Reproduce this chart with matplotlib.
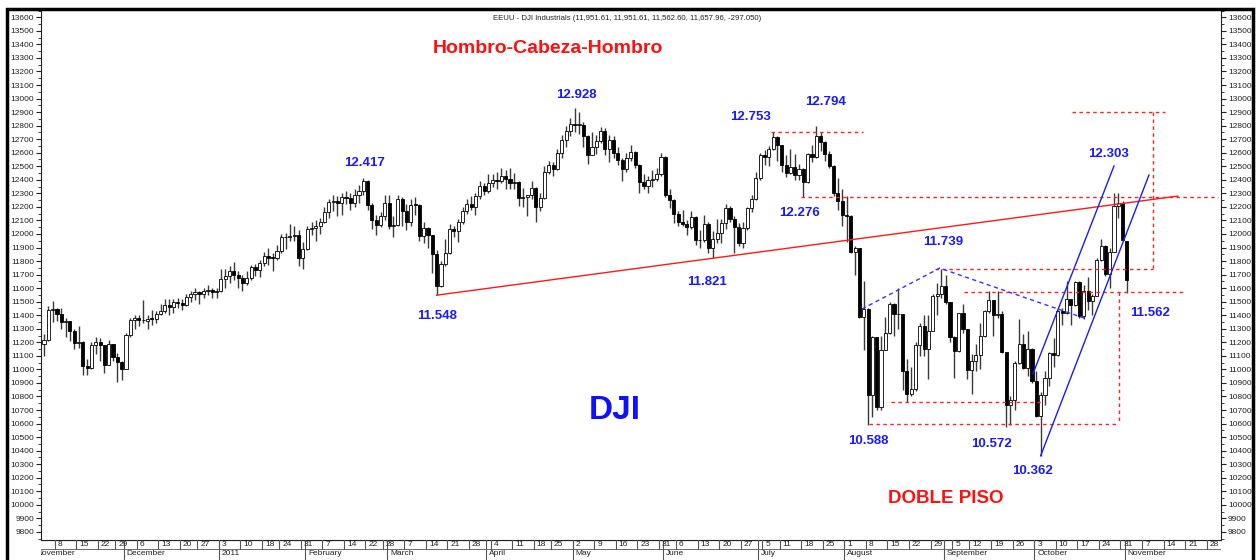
import matplotlib
matplotlib.use("Agg")
import matplotlib.pyplot as plt
from matplotlib.patches import Rectangle
import numpy as np
import pandas as pd

plt.rcParams['font.family'] = ['Liberation Sans', 'DejaVu Sans']

# ---------------- DATA (O, H, L, C) per trading day ----------------
nov10 = [(11188,11260,11100,11215),(11215,11470,11210,11435),(11435,11505,11350,11444),(11444,11450,11360,11407),
         (11407,11455,11300,11347),(11347,11380,11240,11357),(11357,11360,11210,11283),(11283,11300,11150,11193),
         (11193,11320,11160,11202),(11202,11210,10960,11024),(11024,11080,10960,11008),(11008,11200,11000,11181),
         (11181,11240,11110,11204),(11204,11230,11060,11179),(11179,11180,10970,11036),(11036,11220,11030,11187),
         (11187,11190,11060,11092),(11092,11120,10910,11052),(11052,11060,10920,11006)]
dec10 = [(11006,11270,11000,11256),(11256,11380,11240,11362),(11362,11400,11300,11382),(11382,11400,11320,11362),
         (11362,11510,11340,11359),(11359,11400,11300,11372),(11372,11440,11330,11370),(11370,11430,11340,11410),
         (11410,11480,11400,11429),(11429,11520,11420,11477),(11477,11520,11400,11457),(11457,11520,11420,11499),
         (11499,11530,11450,11492),(11492,11520,11440,11478),(11478,11560,11470,11533),(11533,11580,11500,11559),
         (11559,11600,11510,11573),(11573,11580,11480,11555),(11555,11600,11530,11576),(11576,11620,11550,11585),
         (11585,11600,11530,11570),(11570,11600,11530,11578)]
jan11 = [(11578,11740,11570,11671),(11671,11740,11600,11691),(11691,11760,11640,11723),(11723,11790,11660,11697),
         (11697,11730,11600,11675),(11675,11700,11580,11637),(11637,11730,11620,11672),(11672,11770,11660,11755),
         (11755,11780,11690,11732),(11732,11810,11680,11787),(11787,11870,11760,11838),(11838,11900,11770,11825),
         (11825,11860,11730,11823),(11823,11920,11810,11872),(11872,12000,11860,11981),(11981,12010,11890,11977),
         (11977,12070,11950,11985),(11985,12060,11950,11990),(11990,12030,11760,11824),(11824,11940,11740,11892)]
feb11 = [(11892,12060,11880,12040),(12040,12090,11990,12042),(12042,12100,11950,12062),(12062,12120,12000,12092),
         (12092,12200,12080,12162),(12162,12260,12120,12233),(12233,12290,12170,12240),(12240,12280,12130,12229),
         (12229,12300,12140,12273),(12273,12320,12220,12268),(12268,12300,12180,12227),(12227,12330,12200,12288),
         (12288,12360,12230,12318),(12318,12417,12290,12391),(12391,12395,12180,12213),(12213,12230,12040,12106),
         (12106,12140,11990,12069),(12069,12160,12050,12130),(12130,12290,12100,12226)]
mar11 = [(12226,12290,12040,12058),(12058,12130,11980,12067),(12067,12290,12060,12258),(12258,12270,12060,12170),
         (12170,12220,12030,12090),(12090,12260,12060,12214),(12214,12270,12140,12213),(12213,12220,11950,11985),
         (11985,12090,11930,12044),(12044,12050,11900,11993),(11993,11995,11710,11855),(11855,11880,11548,11613),
         (11613,11800,11610,11775),(11775,11960,11760,11859),(11859,12070,11850,12037),(12037,12060,11980,12019),
         (12019,12110,11940,12086),(12086,12200,12070,12171),(12171,12260,12150,12221),(12221,12280,12180,12198),
         (12198,12300,12140,12279),(12279,12390,12260,12351),(12351,12380,12290,12320)]
apr11 = [(12320,12440,12300,12377),(12377,12440,12350,12400),(12400,12460,12330,12394),(12394,12490,12380,12427),
         (12427,12470,12330,12409),(12409,12490,12330,12380),(12380,12450,12330,12381),(12381,12390,12210,12264),
         (12264,12340,12200,12271),(12271,12290,12130,12285),(12285,12390,12260,12342),(12342,12350,12090,12202),
         (12202,12300,12170,12267),(12267,12500,12260,12454),(12454,12540,12440,12506),(12506,12530,12430,12480),
         (12480,12630,12470,12595),(12595,12730,12560,12691),(12691,12800,12640,12763),(12763,12860,12720,12811)]
may11 = [(12811,12928,12750,12807),(12807,12900,12740,12808),(12808,12830,12640,12724),(12724,12730,12520,12584),
         (12584,12750,12580,12639),(12639,12730,12590,12685),(12685,12790,12670,12760),(12760,12780,12580,12630),
         (12630,12730,12530,12696),(12696,12720,12560,12596),(12596,12640,12510,12548),(12548,12560,12390,12480),
         (12480,12600,12460,12560),(12560,12660,12540,12605),(12605,12610,12490,12512),(12512,12520,12300,12381),
         (12381,12440,12330,12356),(12356,12430,12300,12395),(12395,12470,12350,12403),(12403,12490,12390,12442),
         (12442,12600,12430,12570)]
jun11 = [(12570,12575,12270,12290),(12290,12330,12190,12249),(12249,12260,12080,12151),(12151,12170,12060,12090),
         (12090,12180,12060,12071),(12071,12100,11990,12049),(12049,12170,12040,12124),(12124,12130,11920,11952),
         (11952,12030,11900,11953),(11953,12140,11940,12076),(12076,12090,11860,11897),(11897,12020,11821,11962),
         (11962,12110,11930,12004),(12004,12110,11930,12080),(12080,12220,12040,12190),(12190,12210,12090,12110),
         (12110,12130,11860,12050),(12050,12080,11910,11935),(11935,12090,11900,12044),(12044,12200,12030,12189),
         (12189,12290,12160,12261),(12261,12460,12250,12414)]
jul11 = [(12414,12600,12400,12583),(12583,12620,12510,12570),(12570,12650,12500,12626),(12626,12753,12620,12719),
         (12719,12720,12540,12657),(12657,12660,12460,12506),(12506,12580,12420,12447),(12447,12630,12440,12492),
         (12492,12590,12400,12437),(12437,12520,12400,12480),(12480,12490,12276,12385),(12385,12600,12380,12587),
         (12587,12660,12530,12572),(12572,12794,12560,12724),(12724,12750,12610,12681),(12681,12690,12540,12593),
         (12593,12610,12490,12501),(12501,12510,12280,12303),(12303,12410,12180,12240),(12240,12330,12060,12143)]
aug11 = [(12143,12280,11940,12132),(12132,12140,11860,11867),(11867,11910,11700,11896),(11896,11900,11380,11384),
         (11384,11650,11140,11445),(11445,11450,10588,10810),(10810,11250,10650,11240),(11240,11240,10700,10720),
         (10720,11250,10700,11143),(11143,11390,11140,11269),(11269,11500,11260,11483),(11483,11490,11250,11406),
         (11406,11600,11300,11410),(11410,11410,10850,10991),(10991,11080,10760,10818),(10818,11020,10800,10855),
         (10855,11200,10840,11177),(11177,11340,11100,11321),(11321,11400,11100,11150),(11150,11400,10930,11285),
         (11285,11560,11280,11539),(11539,11640,11400,11560),(11560,11739,11530,11614)]
sep11 = [(11614,11700,11480,11494),(11494,11500,11200,11240),(11240,11250,10940,11139),(11139,11420,11130,11415),
         (11415,11480,11270,11296),(11296,11300,10930,10992),(10992,11110,10820,11061),(11061,11190,10990,11106),
         (11106,11340,11000,11247),(11247,11440,11240,11433),(11433,11580,11420,11509),(11509,11510,11250,11401),
         (11401,11580,11380,11409),(11409,11430,11120,11125),(11125,11130,10572,10734),(10734,10800,10590,10771),
         (10771,11060,10700,11044),(11044,11370,11040,11191),(11191,11260,11000,11011),(11011,11280,10950,11154),
         (11154,11160,10900,10913)]
oct11 = [(10913,10990,10650,10655),(10655,10830,10362,10809),(10809,10990,10740,10940),(10940,11130,10880,11123),
         (11123,11230,11020,11103),(11103,11440,11100,11433),(11433,11450,11330,11416),(11416,11650,11410,11519),
         (11519,11520,11330,11478),(11478,11650,11470,11644),(11644,11650,11380,11397),(11397,11620,11370,11577),
         (11577,11680,11440,11505),(11505,11560,11400,11542),(11542,11820,11540,11809),(11809,11960,11800,11914),
         (11914,11920,11690,11707),(11707,11900,11600,11869),(11869,12303,11870,12209),(12209,12300,12120,12231),
         (12231,12240,11950,11955)]
nov11 = [(11951.61,11951.61,11562.60,11657.96)]

holidays = ['2010-11-25', '2010-12-24', '2011-01-17', '2011-02-21', '2011-04-22',
            '2011-05-30', '2011-07-04', '2011-09-05']
first_day, axis_end = '2010-11-03', '2011-12-02'
# the chart labels the Labor-Day week with the Monday date
week_label_override = {'2011-09-06': '5'}

# annotation labels: (text, trading-day position, price)
peak_labels = [("12.417", 74.2, 12524), ("11.548", 91.1, 11395), ("12.928", 123.3, 13025),
               ("12.753", 163.8, 12863), ("12.794", 181.2, 12974), ("12.276", 175.0, 12155),
               ("11.821", 153.7, 11645), ("11.739", 208.3, 11940), ("10.588", 191.0, 10471),
               ("10.572", 219.5, 10449), ("10.362", 229.0, 10249), ("12.303", 246.8, 12590),
               ("11.562", 256.3, 11416)]
title_txt = "EEUU - DJI Industrials (11,951.61, 11,951.61, 11,562.60, 11,657.96, -297.050)"

# ---------------- build series ----------------
ohlc = np.array(nov10 + dec10 + jan11 + feb11 + mar11 + apr11 + may11 + jun11 +
                jul11 + aug11 + sep11 + oct11 + nov11, dtype=float)
O, H, L, C = ohlc.T
idx = np.arange(len(ohlc))

days = pd.bdate_range(first_day, axis_end)
days = days[~days.isin(pd.to_datetime(holidays))]

# ---------------- figure ----------------
W, Hpx = 1256, 560
fig = plt.figure(figsize=(W / 100, Hpx / 100), dpi=100)

def fx(px):
    return px / W

def fy(py):
    return 1 - py / Hpx

ax_l, ax_r, ax_t, ax_b = 41, 1221, 10, 540
ax = fig.add_axes([fx(ax_l), fy(ax_b), fx(ax_r - ax_l), fy(ax_t) - fy(ax_b)])
ax.set_xlim(-0.7, 272.8)
ax.set_ylim(9740, 13654)

# candles
up = C >= O
ax.vlines(idx, L, H, color='#3a3a3a', lw=1.0, zorder=2)
ax.bar(idx, np.where(np.abs(C - O) < 4, 4, C - O), bottom=O, width=0.72,
       color=np.where(up, 'white', 'black'), edgecolor='black', linewidth=0.6, zorder=3)

# neckline (hombro-cabeza-hombro)
ax.plot([91, 262.8], [11548, 12280], color='#ff1a1a', lw=1.0, zorder=4)

red_dash = dict(color='#ff2020', lw=1.0, ls=(0, (2.5, 2.5)), zorder=4)
ax.plot([168.5, 189.8], [12753, 12753], **red_dash)
ax.plot([175.4, 272.1], [12276, 12276], **red_dash)
ax.plot([238.2, 259.8], [12900, 12900], **red_dash)
ax.plot([257.0, 257.0], [12900, 11745], **red_dash)
ax.plot([206.5, 257.0], [11745, 11745], **red_dash)
ax.plot([213.2, 264.4], [11570, 11570], **red_dash)
ax.plot([249.1, 249.1], [11570, 10600], **red_dash)
ax.plot([191.2, 249.1], [10600, 10600], **red_dash)
ax.plot([196.3, 231.5], [10762, 10762], **red_dash)

# doble piso blue dashed
ax.plot([189.6, 207.6, 241.7], [11446, 11748, 11372], color='#3333ff', lw=1.0,
        ls=(0, (3, 2.5)), zorder=4)
# rising channel
ax.plot([229.2, 248.0], [10966, 12502], color='#1a1aff', lw=1.0, zorder=4)
ax.plot([231.0, 256.1], [10362, 12435], color='#1a1aff', lw=1.0, zorder=4)

for t, xx, yy in peak_labels:
    ax.text(xx, yy, t, color='#1a1aff', fontsize=9.5, fontweight='bold', ha='center', va='center', zorder=6)

ax.text(116.7, 13366, "Hombro-Cabeza-Hombro", color='#ff1010', fontsize=14, fontweight='bold',
        ha='center', va='center')
ax.text(132.3, 10700, "DJI", color='#1010ff', fontsize=24, fontweight='bold', ha='center', va='center')
ax.text(209.0, 10043, "DOBLE PISO", color='#ff1010', fontsize=13.5, fontweight='bold',
        ha='center', va='center')
ax.text(0.497, 0.99, title_txt, transform=ax.transAxes, fontsize=5.6, ha='center', va='top', color='#222222')

# y axis
ax.set_yticks(np.arange(9800, 13601, 100))
ax.set_yticks(np.arange(9750, 13651, 50), minor=True)
ax.tick_params(axis='y', which='both', direction='out', left=True, right=True,
               labelleft=True, labelright=True, labelsize=6, pad=1.5, colors='#222222')
ax.tick_params(axis='y', which='major', length=3.5, width=0.8)
ax.tick_params(axis='y', which='minor', length=2, width=0.6)
ax.tick_params(axis='x', which='both', bottom=False, labelbottom=False)
for s in ['left', 'right', 'bottom']:
    ax.spines[s].set_color('#222222')
    ax.spines[s].set_linewidth(0.8)
ax.spines['top'].set_visible(False)

# ---------------- date strip ----------------
dax = fig.add_axes([fx(ax_l), fy(575), fx(ax_r - ax_l), fy(ax_b) - fy(575)])
dax.set_xlim(ax.get_xlim())
dax.set_ylim(0, 35)
dax.axis('off')
dax.axhline(35, color='#222222', lw=0.8)
dax.axhline(26, color='#555555', lw=0.6)

pos = pd.Series(np.arange(len(days)), index=days)
week_first = pos.groupby(days.to_period('W')).first()
month_first = pos.groupby(days.to_period('M')).first()
month_names = {1: '2011', 2: 'February', 3: 'March', 4: 'April', 5: 'May', 6: 'June', 7: 'July',
               8: 'August', 9: 'September', 10: 'October', 11: 'November', 12: 'December'}

# the first, partial week carries no label
for p in week_first.values[1:]:
    d = days[p]
    lab = week_label_override.get(d.strftime('%Y-%m-%d'), str(d.day))
    dax.plot([p - 0.5, p - 0.5], [26, 35], color='#555555', lw=0.8)
    dax.text(p + 0.2, 30.5, lab, fontsize=6, ha='left', va='center', color='#222222', clip_on=True)
# November 2010 begins before the first candle; no label past November 2011
month_starts = [(-2.0, 'November')] + [(p, month_names[days[p].month]) for p in month_first.values[1:]
                                       if days[p] <= pd.Timestamp('2011-11-30')]
for p, name in month_starts:
    dax.plot([p - 0.5, p - 0.5], [0, 35], color='#555555', lw=0.8, clip_on=True)
    dax.text(p + 0.2, 25, name, fontsize=6, ha='left', va='top', color='#222222', clip_on=True)

# outer frame
fig.add_artist(Rectangle((fx(7), fy(600)), fx(1253 - 7), fy(9) - fy(600), transform=fig.transFigure,
                         fill=False, lw=2.5, edgecolor='black'))

fig.savefig('out.png', dpi=100)
